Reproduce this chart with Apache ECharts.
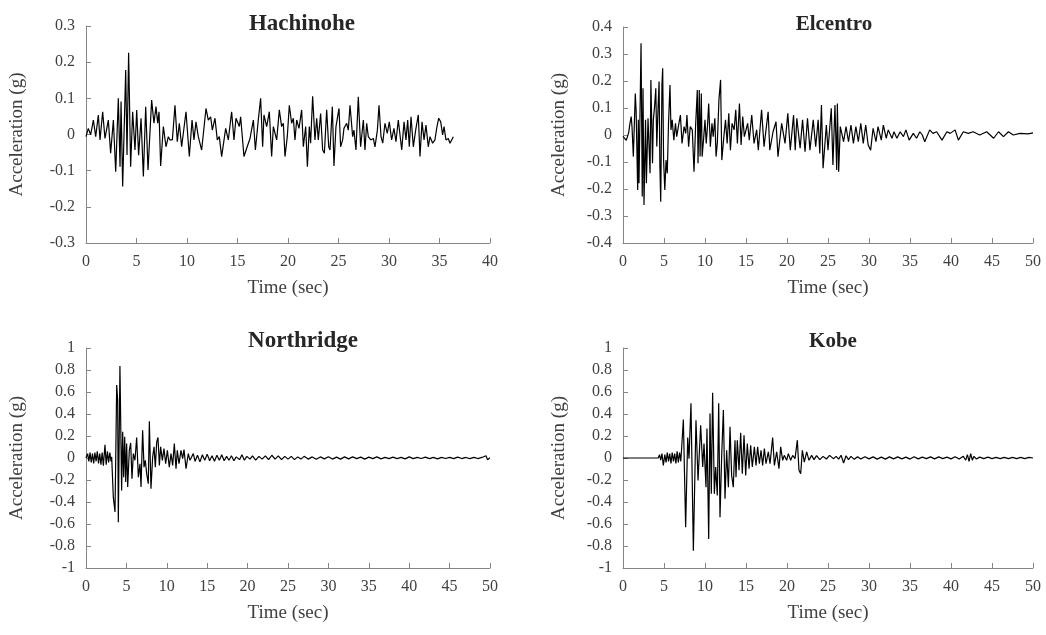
<!DOCTYPE html>
<html>
<head>
<meta charset="utf-8">
<script src="https://cdn.jsdelivr.net/npm/echarts@6/dist/echarts.min.js"></script>
<style>
  html, body { margin: 0; padding: 0; background: #fff; }
  #chart { width: 1046px; height: 635px; }
</style>
</head>
<body>
<div id="chart"></div>
<script>
// records: [time (sec), acceleration (g)]
const hachinohe = [
  [0, -0.006], [0.23, 0.017], [0.46, -0.001], [0.73, 0.04], [0.96, -0.006], [1.22, 0.054], [1.39, -0.015],
  [1.65, 0.063], [1.88, -0.011], [2.21, 0.04], [2.44, -0.052], [2.71, 0.04], [2.94, -0.103], [3.2, 0.1],
  [3.37, -0.089], [3.47, 0.091], [3.63, -0.144], [3.93, 0.178], [4.06, -0.057], [4.22, 0.226], [4.42, -0.089],
  [4.62, 0.063], [4.85, -0.043], [5.02, 0.068], [5.21, -0.057], [5.45, 0.045], [5.68, -0.116], [5.91, 0.077],
  [6.14, -0.098], [6.5, 0.095], [6.73, 0.031], [6.93, 0.077], [7.1, 0.031], [7.23, 0.063], [7.39, -0.087],
  [7.66, 0.022], [7.92, -0.034], [8.15, -0.006], [8.32, -0.015], [8.55, -0.015], [8.81, 0.081], [9.04, -0.02],
  [9.24, 0.031], [9.47, -0.034], [9.9, 0.063], [10.23, -0.061], [10.5, 0.04], [10.69, -0.015], [10.89, 0.035],
  [11.12, -0.006], [11.45, -0.043], [11.88, 0.072], [12.11, 0.04], [12.34, 0.049], [12.51, 0.012], [12.77, 0.045],
  [13.0, -0.015], [13.2, -0.006], [13.43, -0.061], [13.83, 0.017], [14.09, -0.015], [14.42, 0.063], [14.65, -0.015],
  [14.85, 0.045], [15.18, 0.022], [15.31, 0.049], [15.64, -0.061], [15.91, -0.038], [16.24, -0.011], [16.57, 0.04],
  [16.77, -0.043], [17.06, 0.04], [17.29, 0.1], [17.49, -0.034], [17.62, 0.054], [17.89, 0.022], [18.15, 0.063],
  [18.38, -0.061], [18.55, 0.022], [18.88, -0.015], [19.14, 0.068], [19.37, 0.022], [19.54, 0.031], [19.7, -0.061],
  [19.93, -0.006], [20.13, 0.081], [20.36, 0.031], [20.53, 0.045], [20.69, -0.015], [20.86, 0.04], [21.09, 0.017],
  [21.35, 0.068], [21.52, -0.034], [21.75, 0.022], [21.92, -0.089], [22.11, 0.022], [22.24, -0.024], [22.44, 0.106],
  [22.67, -0.015], [22.84, 0.045], [23.0, -0.015], [23.23, 0.058], [23.43, -0.043], [23.6, -0.052], [23.83, 0.068],
  [24.03, -0.034], [24.16, -0.043], [24.39, 0.077], [24.55, -0.087], [24.75, 0.022], [25.05, 0.072], [25.21, -0.034],
  [25.41, -0.015], [25.54, 0.017], [25.81, 0.031], [25.97, 0.012], [26.14, 0.081], [26.4, -0.006], [26.53, 0.012],
  [26.73, -0.043], [26.96, 0.104], [27.19, -0.034], [27.46, 0.04], [27.62, -0.043], [27.79, 0.031], [27.95, -0.006],
  [28.19, -0.015], [28.45, -0.011], [28.61, -0.034], [28.85, 0.012], [29.01, 0.081], [29.21, -0.006], [29.38, -0.024],
  [29.6, 0.031], [29.83, 0.003], [30.03, 0.035], [30.26, -0.015], [30.49, 0.017], [30.69, -0.02], [30.92, 0.04],
  [31.26, -0.043], [31.49, 0.035], [31.68, -0.015], [31.85, 0.04], [32.01, -0.034], [32.18, 0.049], [32.41, -0.034],
  [32.64, 0.012], [32.9, 0.054], [33.07, -0.061], [33.27, 0.035], [33.47, -0.015], [33.66, 0.026], [33.89, -0.034],
  [34.06, -0.006], [34.32, -0.024], [34.55, -0.015], [34.72, 0.017], [34.92, 0.045], [35.12, 0.035], [35.31, -0.001],
  [35.45, 0.022], [35.64, -0.015], [35.87, -0.011], [36.04, -0.024], [36.37, -0.006]
];

const elcentro = [
  [0, -0.005], [0.4, -0.02], [0.7, 0.01], [0.85, 0.043], [1.0, 0.068], [1.1, 0.03], [1.26, -0.08], [1.5, 0.154],
  [1.6, 0.09], [1.79, -0.204], [1.87, 0.056], [1.95, -0.179], [2.2, 0.34], [2.35, -0.228], [2.44, 0.173],
  [2.56, -0.259], [2.75, 0.056], [2.85, -0.179], [3.05, 0.062], [3.3, -0.142], [3.4, 0.204], [3.6, -0.105],
  [3.7, 0.056], [3.85, 0.105], [4.0, 0.173], [4.12, -0.043], [4.25, 0.08], [4.4, 0.198], [4.5, -0.117],
  [4.6, -0.247], [4.75, 0.185], [4.84, 0.247], [4.95, -0.093], [5.1, -0.204], [5.25, -0.093], [5.4, -0.142],
  [5.55, 0.043], [5.73, 0.185], [5.85, 0.019], [6.0, 0.056], [6.2, -0.019], [6.4, 0.043], [6.55, -0.006],
  [6.75, 0.031], [7.0, 0.074], [7.2, -0.031], [7.45, 0.031], [7.65, 0.006], [7.8, 0.074], [8.0, -0.043],
  [8.2, 0.031], [8.45, 0.019], [8.66, -0.136], [8.85, 0.031], [9.06, 0.167], [9.15, -0.105], [9.3, 0.167],
  [9.4, -0.08], [9.55, 0.154], [9.65, -0.08], [9.85, -0.006], [10.0, 0.056], [10.15, -0.031], [10.3, 0.031],
  [10.45, 0.117], [10.65, -0.043], [10.85, 0.043], [11.0, -0.006], [11.2, 0.062], [11.35, -0.08], [11.5, -0.031],
  [11.7, 0.13], [11.9, 0.204], [12.05, -0.093], [12.3, -0.006], [12.5, 0.056], [12.7, -0.031], [12.9, 0.08],
  [13.1, -0.056], [13.3, 0.043], [13.55, 0.019], [13.75, 0.093], [13.95, -0.031], [14.2, 0.117], [14.4, -0.037],
  [14.6, 0.068], [14.8, -0.006], [15.0, 0.019], [15.2, 0.043], [15.4, -0.019], [15.7, 0.074], [15.98, -0.031],
  [16.3, 0.019], [16.5, -0.056], [16.9, 0.093], [17.2, -0.043], [17.7, 0.086], [17.9, -0.056], [18.3, 0.012],
  [18.66, 0.049], [18.9, -0.08], [19.35, 0.043], [19.76, -0.031], [20.1, 0.08], [20.4, -0.056], [20.8, 0.074],
  [21.0, -0.056], [21.2, 0.062], [21.6, -0.049], [21.9, 0.056], [22.2, -0.062], [22.5, 0.062], [22.8, -0.056],
  [23.2, 0.056], [23.5, -0.043], [23.8, 0.056], [24.0, -0.068], [24.2, 0.111], [24.4, -0.123], [24.8, 0.037],
  [25.0, -0.056], [25.4, 0.099], [25.6, -0.111], [25.85, 0.111], [26.06, -0.13], [26.14, 0.117], [26.3, -0.136],
  [26.5, 0.031], [26.9, -0.025], [27.2, 0.031], [27.5, -0.025], [27.8, 0.037], [28.1, -0.031], [28.4, 0.031],
  [28.7, -0.025], [29.0, 0.043], [29.3, -0.031], [29.6, 0.037], [29.9, -0.037], [30.2, -0.056], [30.5, 0.025],
  [30.85, -0.025], [31.1, 0.031], [31.5, -0.019], [31.75, 0.037], [32.1, -0.012], [32.35, 0.019], [32.8, -0.012],
  [33.05, 0.012], [33.4, -0.012], [33.8, 0.012], [34.2, -0.006], [34.5, 0.019], [34.9, -0.019], [35.4, 0.006],
  [35.8, -0.012], [36.2, 0.012], [36.5, 0], [36.8, -0.025], [37.4, 0.019], [37.8, 0.006], [38.25, 0.012],
  [38.9, -0.019], [39.5, 0.012], [39.9, 0.006], [40.5, 0.019], [40.9, -0.019], [41.5, 0.012], [42.1, 0.006],
  [42.7, 0.012], [43.5, 0], [44.35, 0.012], [45.2, -0.012], [45.8, 0.012], [46.4, -0.006], [47.0, 0.012],
  [47.6, 0], [48.4, 0.006], [49.4, 0.004], [50, 0.008]
];

const northridge = [
  [0, 0], [0.2, 0.04], [0.35, -0.03], [0.5, 0.05], [0.65, -0.04], [0.8, 0.04], [0.95, -0.05], [1.1, 0.05],
  [1.25, -0.03], [1.4, 0.06], [1.55, -0.05], [1.7, 0.04], [1.85, -0.06], [2.0, 0.05], [2.15, -0.07], [2.35, 0.12],
  [2.5, -0.06], [2.65, 0.06], [2.8, -0.04], [2.95, 0.05], [3.1, -0.03], [3.18, 0.01], [3.38, -0.356], [3.59, -0.49],
  [3.8, 0.664], [3.92, 0.527], [4.0, -0.584], [4.2, 0.837], [4.41, -0.295], [4.54, 0.238], [4.66, -0.174],
  [4.79, 0.192], [4.91, -0.219], [5.03, 0.131], [5.16, -0.264], [5.36, 0.07], [5.53, 0.137], [5.69, -0.188],
  [5.86, 0.04], [6.06, -0.021], [6.27, 0.186], [6.48, -0.174], [6.68, -0.052], [6.81, -0.264], [7.01, 0.253],
  [7.18, -0.083], [7.34, -0.021], [7.51, -0.143], [7.71, -0.234], [7.84, 0.335], [8.04, -0.279], [8.25, 0.009],
  [8.42, 0.101], [8.58, -0.083], [8.75, 0.146], [8.91, 0.186], [9.08, -0.067], [9.24, 0.101], [9.45, -0.021],
  [9.65, 0.085], [9.86, -0.052], [10.07, 0.07], [10.31, -0.083], [10.52, 0.04], [10.73, -0.067], [10.93, 0.131],
  [11.14, -0.098], [11.3, 0.07], [11.51, -0.052], [11.76, 0.07], [11.96, -0.006], [12.13, 0.076], [12.38, -0.098],
  [12.66, 0.04], [12.87, -0.021], [13.28, 0.04], [13.5, -0.03], [13.8, 0.025], [14.1, -0.035], [14.4, 0.03],
  [14.7, -0.02], [15.0, 0.035], [15.3, -0.025], [15.6, 0.02], [15.9, -0.03], [16.2, 0.025], [16.5, -0.02],
  [16.8, 0.03], [17.1, -0.025], [17.4, 0.015], [17.7, -0.02], [18.0, 0.02], [18.3, -0.025], [18.6, 0.01],
  [19.0, -0.015], [19.3, 0.03], [19.6, -0.02], [19.9, 0.015], [20.3, -0.01], [20.6, 0.02], [21.0, -0.02],
  [21.4, 0.015], [21.8, -0.01], [22.2, 0.02], [22.6, -0.015], [23.0, 0.025], [23.4, -0.01], [23.8, 0.02],
  [24.2, -0.015], [24.6, 0.015], [25.0, -0.01], [25.4, 0.015], [25.8, -0.015], [26.2, 0.01], [26.6, -0.01],
  [27.0, 0.015], [27.5, -0.01], [28.0, 0.01], [28.5, -0.012], [29.0, 0.01], [29.5, -0.008], [30.0, 0.012],
  [30.5, -0.01], [31.0, 0.008], [31.5, -0.01], [32.0, 0.01], [32.5, -0.008], [33.0, 0.01], [33.5, -0.006],
  [34.0, 0.008], [34.5, -0.01], [35.0, 0.008], [35.5, -0.006], [36.0, 0.01], [36.5, -0.008], [37.0, 0.006],
  [37.5, -0.006], [38.0, 0.008], [38.5, -0.006], [39.0, 0.006], [39.5, -0.008], [40.0, 0.01], [40.5, -0.006],
  [41.0, 0.006], [41.5, -0.005], [42.0, 0.008], [42.5, -0.006], [43.0, 0.006], [43.5, -0.008], [44.0, 0.006],
  [44.5, -0.005], [45.0, 0.006], [45.5, -0.006], [46.0, 0.008], [46.5, -0.005], [47.0, 0.005], [47.5, -0.006],
  [48.0, 0.006], [48.5, -0.005], [49.0, 0.005], [49.5, 0.02], [49.7, -0.015], [50.0, 0.002]
];

const kobe = [
  [0, 0], [4.3, 0], [4.45, 0.03], [4.6, -0.02], [4.75, 0.04], [4.92, -0.067], [5.1, 0.03], [5.25, -0.04],
  [5.4, 0.05], [5.55, -0.03], [5.7, 0.04], [5.85, -0.05], [6.0, 0.05], [6.15, -0.03], [6.3, 0.04], [6.45, -0.05],
  [6.6, 0.06], [6.75, -0.04], [6.9, 0.05], [7.05, -0.03], [7.15, 0.086], [7.36, 0.35], [7.64, -0.63], [7.89, 0.186],
  [8.05, -0.006], [8.29, 0.497], [8.58, -0.843], [8.9, 0.344], [9.15, -0.204], [9.47, 0.298], [9.72, -0.082],
  [9.88, 0.131], [10.12, -0.265], [10.24, 0.268], [10.45, -0.736], [10.61, 0.405], [10.77, -0.326], [10.93, 0.594],
  [11.14, -0.326], [11.3, -0.082], [11.5, -0.341], [11.67, 0.497], [11.83, -0.539], [12.03, 0.009], [12.24, 0.436],
  [12.44, -0.371], [12.64, 0.07], [12.85, -0.265], [13.05, 0.283], [13.25, -0.158], [13.45, -0.265], [13.66, 0.162],
  [13.78, -0.174], [13.94, 0.162], [14.15, -0.112], [14.35, 0.23], [14.55, -0.143], [14.76, 0.207], [14.96, -0.158],
  [15.16, 0.131], [15.37, -0.097], [15.57, 0.116], [15.77, -0.082], [16.02, 0.101], [16.22, -0.067], [16.42, 0.101],
  [16.63, -0.052], [16.83, 0.07], [17.03, -0.067], [17.24, 0.086], [17.44, -0.052], [17.72, 0.055], [17.93, -0.052],
  [18.25, 0.186], [18.46, -0.067], [18.74, 0.055], [19.02, -0.097], [19.23, 0.101], [19.47, -0.021], [19.67, 0.024],
  [19.96, -0.021], [20.16, 0.04], [20.45, -0.021], [20.69, 0.024], [20.98, -0.006], [21.26, 0.162], [21.46, -0.112],
  [21.67, -0.143], [21.87, 0.07], [22.11, -0.037], [22.4, 0.055], [22.68, -0.021], [23.0, 0.024], [23.3, -0.015],
  [23.6, 0.021], [24.0, -0.015], [24.4, 0.015], [24.8, -0.009], [25.2, 0.024], [25.65, -0.006], [26.0, 0.015],
  [26.3, -0.01], [26.6, 0.025], [26.9, -0.045], [27.2, 0.02], [27.5, -0.015], [27.8, 0.015], [28.2, -0.012],
  [28.6, 0.012], [29.0, -0.01], [29.5, 0.012], [30.0, -0.008], [30.5, 0.01], [31.0, -0.01], [31.5, 0.008],
  [32.0, -0.01], [32.5, 0.01], [33.0, -0.008], [33.5, 0.01], [34.0, -0.008], [34.5, 0.008], [35.0, -0.01],
  [35.5, 0.012], [36.0, -0.008], [36.5, 0.008], [37.0, -0.006], [37.5, 0.01], [38.0, -0.008], [38.5, 0.01],
  [39.0, -0.006], [39.5, 0.008], [40.0, -0.008], [40.5, 0.012], [41.0, -0.01], [41.5, 0.015], [41.8, -0.02],
  [42.0, 0.03], [42.2, -0.03], [42.4, 0.04], [42.6, -0.02], [42.8, 0.015], [43.1, -0.01], [43.5, 0.008],
  [44.0, -0.006], [44.5, 0.008], [45.0, -0.006], [45.5, 0.006], [46.0, -0.006], [46.5, 0.006], [47.0, -0.005],
  [47.5, 0.006], [48.0, -0.005], [48.5, 0.005], [49.0, -0.006], [49.5, 0.005], [50.0, 0]
];

const titles = ['Hachinohe', 'Elcentro', 'Northridge', 'Kobe'];
const timeMax = [40, 50, 50, 50];
const accMax = [0.3, 0.4, 1, 1];
const accStep = [0.1, 0.1, 0.2, 0.2];
const records = [hachinohe, elcentro, northridge, kobe];

const font = "'Liberation Serif', 'Times New Roman', serif";
const textColor = '#404040';
const axisColor = '#868686';

// panel boxes in px
const boxes = [
  { left: 86, top: 26, width: 404, height: 217, titleX: 297, titleY: 8, titleSize: 23, nameGap: 59 },
  { left: 623, top: 27, width: 410, height: 216, titleX: 829, titleY: 9, titleSize: 21, nameGap: 54 },
  { left: 86, top: 348, width: 404, height: 220, titleX: 298, titleY: 325, titleSize: 23, nameGap: 59 },
  { left: 623, top: 348, width: 410, height: 220, titleX: 828, titleY: 326, titleSize: 21, nameGap: 54 }
];

const chart = echarts.init(document.getElementById('chart'), null, { renderer: 'canvas' });

const option = {
  animation: false,
  backgroundColor: '#fff',
  title: boxes.map((b, i) => ({
    text: titles[i],
    left: b.titleX,
    top: b.titleY,
    textAlign: 'center',
    textStyle: { fontFamily: font, fontWeight: 'bold', fontSize: b.titleSize, color: '#262626' }
  })),
  grid: boxes.map(b => ({
    left: b.left, top: b.top, width: b.width, height: b.height,
    containLabel: false, outerBoundsMode: 'none'
  })),
  xAxis: boxes.map((b, i) => ({
    type: 'value',
    gridIndex: i,
    min: 0,
    max: timeMax[i],
    interval: 5,
    name: 'Time (sec)',
    nameLocation: 'middle',
    nameGap: 36,
    nameTextStyle: { fontFamily: font, fontSize: 19, color: textColor },
    axisLine: { onZero: false, lineStyle: { color: axisColor, width: 1 } },
    axisTick: { inside: true, length: 5, lineStyle: { color: axisColor } },
    axisLabel: { fontFamily: font, fontSize: 16, color: textColor, margin: 11 },
    splitLine: { show: false }
  })),
  yAxis: boxes.map((b, i) => ({
    type: 'value',
    gridIndex: i,
    min: -accMax[i],
    max: accMax[i],
    interval: accStep[i],
    name: 'Acceleration (g)',
    nameLocation: 'middle',
    nameGap: b.nameGap,
    nameTextStyle: { fontFamily: font, fontSize: 19, color: textColor },
    axisLine: { show: true, onZero: false, lineStyle: { color: axisColor, width: 1 } },
    axisTick: { show: true, inside: true, length: 5, lineStyle: { color: axisColor } },
    axisLabel: { fontFamily: font, fontSize: 16, color: textColor, margin: 11 },
    splitLine: { show: false }
  })),
  series: records.map((rec, i) => ({
    type: 'line',
    xAxisIndex: i,
    yAxisIndex: i,
    data: rec,
    showSymbol: false,
    symbol: 'none',
    lineStyle: { color: '#000', width: 1.2 },
    emphasis: { disabled: true }
  }))
};

chart.setOption(option);
</script>
</body>
</html>
